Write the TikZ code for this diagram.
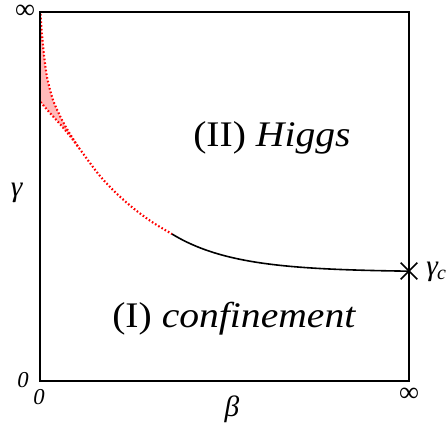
\documentclass[tikz,border=0pt]{standalone}
\usepackage{fontspec}
\setmainfont{Liberation Serif}
\usetikzlibrary{shapes.misc}
\definecolor{pinkfill}{RGB}{255,185,185}
\tikzset{
  lbl/.style={inner sep=0pt, font=\fontsize{27pt}{30pt}\selectfont, xscale=1.1},
  axlbl/.style={inner sep=0pt, font=\fontsize{22pt}{24pt}\selectfont},
  inflbl/.style={inner sep=0pt, font=\fontsize{21pt}{23pt}\selectfont, text height=8pt, text depth=0pt},
  zerolbl/.style={inner sep=0pt, font=\fontsize{17pt}{19pt}\selectfont\itshape},
  reddot/.style={red, line width=1.6pt, line cap=butt, dash pattern=on 1.2pt off 1.6pt},
  crit/.style={black, line width=1.2pt}
}
\begin{document}
\begin{tikzpicture}[x=0.75pt,y=-0.75pt]
\useasboundingbox (0,0) rectangle (446,424);
% shaded region
\fill[pinkfill] plot[smooth] coordinates {(40.5,14) (42,35) (44,55) (47,77) (53,100) (62,120) (70,134) (79,148)}
  -- plot[smooth] coordinates {(79,148) (70,136) (60,124) (50,113) (40.5,102)} -- cycle;
% upper red dotted
\draw[reddot] plot[smooth] coordinates {(40.5,14) (42,35) (44,55) (47,77) (53,100) (62,120) (70,134) (79,148)};
\draw[reddot] plot[smooth] coordinates {(79,148) (90,163) (100,176) (115,192) (133,208) (152,222) (172,234)};
% lower red dotted
\draw[reddot] plot[smooth] coordinates {(40.5,102) (50,113) (60,124) (70,136) (79,148)};
% black transition line
\node[cross out, draw, line width=1.2pt, minimum size=11.25pt, inner sep=0pt] (gc) at (409,271) {};
\coordinate (s) at (172,234);
\draw[crit] plot[domain=172:409, samples=60, smooth] (\x, {272-38*exp(-(\x-172)/62)});
% frame
\draw[line width=1.5pt] (40,12) rectangle (409,381);
% labels
\node[lbl, anchor=base west] (higgs) at (193,147) {(II)~\textit{Higgs}};
\node[lbl, anchor=base west] (conf) at (112,327) {(I)~\textit{confinement}};
\node[inflbl] (inftop) at (25,13.5) {∞};
\node[inflbl] (infright) at (409,396) {∞};
\node[axlbl] (gam) at (17,193) {\textit{γ}};
\node[axlbl] (bet) at (232,409) {\textit{β}};
\node[axlbl, anchor=west] (gamc) at (426,272) {\textit{γ}\kern-1pt\raisebox{-3pt}{\fontsize{15pt}{16pt}\selectfont\textit{c}}};
\node[zerolbl] (zl) at (23,380) {0};
\node[zerolbl] (zb) at (39,397) {0};
\end{tikzpicture}
\end{document}
